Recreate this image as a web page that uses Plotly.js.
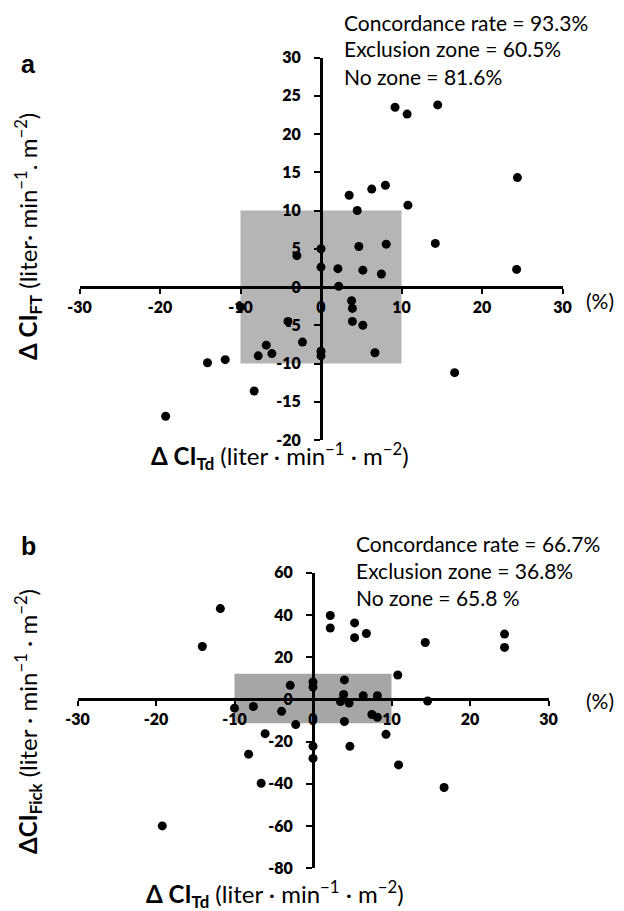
<!DOCTYPE html>
<html>
<head>
<meta charset="utf-8">
<script src="https://cdn.plot.ly/plotly-3.0.1.min.js"></script>
<style>html,body{margin:0;padding:0;background:#fff}#chart{width:624px;height:911px}</style>
</head>
<body>
<div id="chart"></div>
<script>
// ---- Data (panel a: ΔCI_Td vs ΔCI_FT) ----
const tdA = [9.2, 10.7, 14.5, 24.4, 3.5, 6.3, 8.0, 4.5, 10.8, 0, -3.0, 4.7, 8.1, 14.2, 0, 2.1, 5.2, 7.5, 24.3, 2.2, 3.8, 3.9, -10.0, -4.1, 3.9, 5.2, -2.3, -6.8, -7.8, -6.1, 0, 0, 6.7, -14.1, -11.9, 16.6, -8.3, -19.3];
const ftA = [23.5, 22.6, 23.8, 14.3, 12.0, 12.8, 13.3, 10.0, 10.7, 5.0, 4.1, 5.3, 5.6, 5.7, 2.6, 2.4, 2.2, 1.7, 2.3, 0.1, -1.8, -2.8, -2.6, -4.5, -4.5, -5.0, -7.2, -7.6, -9.0, -8.7, -8.4, -9.0, -8.6, -9.9, -9.5, -11.2, -13.6, -16.9];
// ---- Data (panel b: ΔCI_Td vs ΔCI_Fick) ----
const tdB = [-11.8, -14.1, 2.2, 2.2, 5.3, 5.3, 6.8, 14.3, 24.4, 24.4, 10.8, 4.0, -2.9, 0, 0, 3.9, 6.4, 8.2, 3.5, 4.6, 14.6, -10.0, -7.6, -4.0, -2.2, 4.0, 7.5, 8.2, -6.1, 9.3, 0, 4.7, 0, -8.2, 10.9, -6.6, 16.7, -19.2];
const fickB = [43, 25, 39.7, 33.8, 36.2, 29.2, 31.2, 26.9, 30.9, 24.6, 11.5, 9.2, 6.6, 8.2, 5.8, 2.3, 1.7, 1.7, -1.1, -1.8, -0.8, -4.2, -3.4, -5.7, -12, -10.5, -7.2, -8.5, -16.3, -16.6, -22.2, -22.3, -28, -26, -31.1, -39.8, -41.8, -60];
// exclusion zones
const zoneA = {x: [-10, 10], y: [-10, 10]};
const zoneB = {x: [-10, 10], y: [-11.4, 12.1]};
// tick values
const xTicks = [-30, -20, -10, 0, 10, 20, 30];
const yTicksA = [-20, -15, -10, -5, 0, 5, 10, 15, 20, 25, 30];
const yTicksB = [-80, -60, -40, -20, 0, 20, 40, 60];
const statsA = ["Concordance rate = 93.3%", "Exclusion zone = 60.5%", "No zone = 81.6%"];
const statsB = ["Concordance rate = 66.7%", "Exclusion zone = 36.8%", "No zone = 65.8 %"];

const W = 624, H = 911;
const px = v => v / W;
const py = v => 1 - v / H;

// panel geometry (pixels)
const A = {x0: 79.5, x1: 562.5, yTop: 57.5, yBot: 440, xr: [-30, 30], yr: [-20, 30]};
const B = {x0: 77.5, x1: 548.5, yTop: 572.7, yBot: 868.1, xr: [-30, 30], yr: [-80, 60]};

function zeroPos(dom, r) { return dom[0] + (0 - r[0]) / (r[1] - r[0]) * (dom[1] - dom[0]); }

const tickFont = {family: "Lato, sans-serif", size: 16, color: "#000", weight: 800};
function xAxis(P, yDom, yRange) {
  const dom = [px(P.x0), px(P.x1)];
  return {domain: dom, range: P.xr, tickvals: xTicks, ticktext: xTicks.map(String),
    showline: true, linewidth: 2.5, linecolor: "#000", ticks: "outside", ticklen: 5, tickwidth: 2, tickcolor: "#000",
    showgrid: false, zeroline: false, anchor: "free", position: zeroPos(yDom, yRange),
    tickfont: tickFont, fixedrange: true, ticklabelstandoff: 0};
}
function yAxis(P, ticks, xDom) {
  const dom = [py(P.yBot), py(P.yTop)];
  return {domain: dom, range: P.yr, tickvals: ticks, ticktext: ticks.map(String),
    showline: true, linewidth: 2.5, linecolor: "#000", ticks: "outside", ticklen: 6, tickwidth: 2, tickcolor: "#000",
    showgrid: false, zeroline: false, anchor: "free", position: zeroPos(xDom, P.xr),
    tickfont: tickFont, fixedrange: true, ticklabelstandoff: 10};
}
const xDomA = [px(A.x0), px(A.x1)], yDomA = [py(A.yBot), py(A.yTop)];
const xDomB = [px(B.x0), px(B.x1)], yDomB = [py(B.yBot), py(B.yTop)];

const marker = {color: "#000", size: 9};
const data = [
  {type: "scatter", mode: "markers", x: tdA, y: ftA, xaxis: "x", yaxis: "y", marker: marker, hoverinfo: "x+y"},
  {type: "scatter", mode: "markers", x: tdB, y: fickB, xaxis: "x2", yaxis: "y2", marker: marker, hoverinfo: "x+y"}
];

const txtFont = {family: "Lato, sans-serif", size: 21, color: "#000"};
const titleFont = {family: "Lato, sans-serif", size: 24, color: "#000"};
const ann = [];
function note(x, y, text, font, extra) {
  ann.push(Object.assign({xref: "paper", yref: "paper", x: px(x), y: py(y), xanchor: "center", yanchor: "middle", text: text, showarrow: false, font: font}, extra || {}));
}
statsA.forEach((s, i) => note(342, 22 + i * 27, s, txtFont, {xanchor: "left"}));
statsB.forEach((s, i) => note(354, 543 + i * 27, s, txtFont, {xanchor: "left"}));
const panelFont = {family: "Liberation Sans, Arial, sans-serif", size: 25, color: "#000"};
note(28, 64, "<b>a</b>", panelFont);
note(28, 546, "<b>b</b>", panelFont);
note(600, 301, "(%)", txtFont);
note(600, 700, "(%)", txtFont);
const xTitle = "<b>Δ CI<sub>Td</sub></b> (liter · min<sup>−1</sup> · m<sup>−2</sup>)";
note(280, 456, xTitle, titleFont);
note(275, 894, xTitle, titleFont);
note(28, 237, "<b>Δ CI<sub>FT</sub></b> (liter· min<sup>−1</sup>. m<sup>−2</sup>)", titleFont, {textangle: -90});
note(28, 722, "<b>ΔCI<sub>Fick</sub></b> (liter · min<sup>−1</sup> · m<sup>−2</sup>)", titleFont, {textangle: -90});

const shapes = [
  {type: "rect", xref: "x", yref: "y", x0: zoneA.x[0], x1: zoneA.x[1], y0: zoneA.y[0], y1: zoneA.y[1], fillcolor: "#b5b5b5", line: {width: 0}, layer: "below"},
  {type: "rect", xref: "x2", yref: "y2", x0: zoneB.x[0], x1: zoneB.x[1], y0: zoneB.y[0], y1: zoneB.y[1], fillcolor: "#a6a6a6", line: {width: 0}, layer: "below"}
];

const layout = {
  width: W, height: H, margin: {l: 0, r: 0, t: 0, b: 0}, paper_bgcolor: "#fff", plot_bgcolor: "rgba(0,0,0,0)",
  showlegend: false, font: {family: "Lato, sans-serif", color: "#000"},
  xaxis: xAxis(A, yDomA, A.yr), yaxis: yAxis(A, yTicksA, xDomA),
  xaxis2: xAxis(B, yDomB, B.yr), yaxis2: yAxis(B, yTicksB, xDomB),
  annotations: ann, shapes: shapes
};
Plotly.newPlot("chart", data, layout, {staticPlot: true, displayModeBar: false});
</script>
</body>
</html>
